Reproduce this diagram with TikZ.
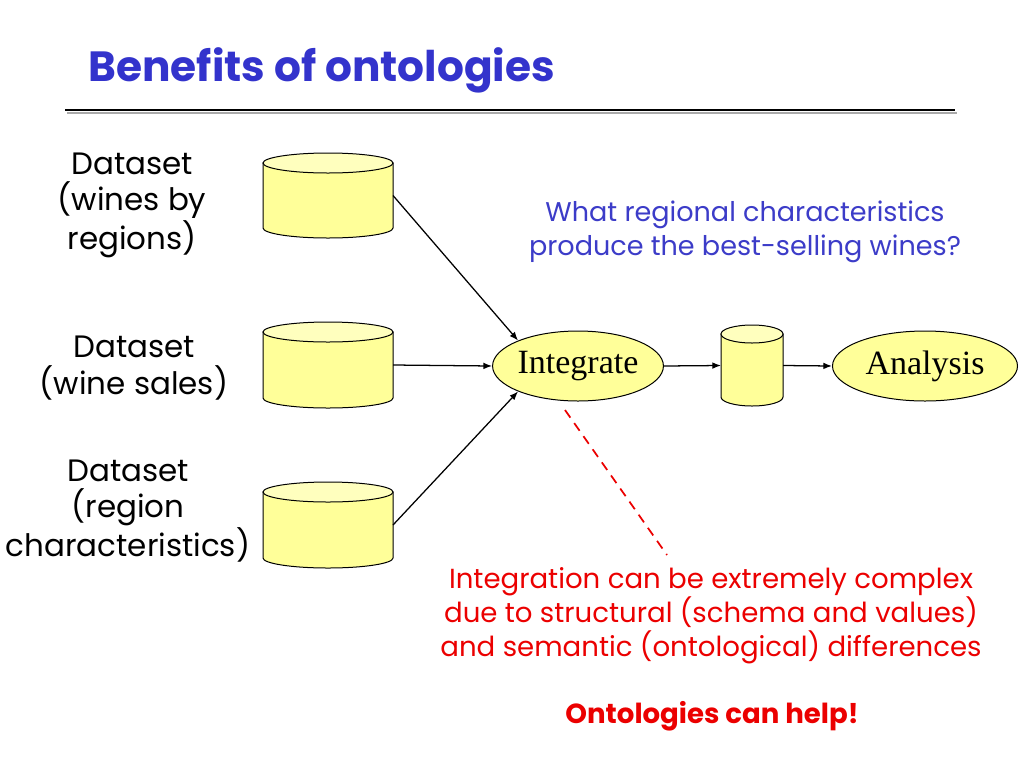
\documentclass[tikz,border=0pt]{standalone}
\usepackage{fontspec}
\setmainfont{Liberation Serif}
\newfontfamily\gothic{Poppins}
\usetikzlibrary{shapes.geometric,arrows.meta}
\definecolor{titleblue}{RGB}{51,51,204}
\definecolor{askblue}{RGB}{60,60,200}
\definecolor{notered}{RGB}{235,0,0}
\definecolor{dbbody}{RGB}{255,255,153}
\definecolor{dbtop}{RGB}{255,255,190}
\tikzset{every picture/.style={line width=0.75pt}}
% drum: name, centre x, centre y, x radius, half body height, end radius
\newcommand{\dbdrum}[6]{%
	\node [dbbox, minimum width={2*#4*0.75pt}, minimum height={2*#5*0.75pt}] (#1) at (#2,#3) {};
	\draw [fill=dbbody] (#2-#4,#3-#5) -- (#2-#4,#3+#5) arc [start angle=180, end angle=0, x radius=#4, y radius=#6] -- (#2+#4,#3-#5) -- cycle;
	\draw [fill=dbtop] (#2,#3-#5) ellipse [x radius=#4, y radius=#6];
}
\begin{document}
\begin{tikzpicture}[x=0.75pt,y=0.75pt,yscale=-1,xscale=1,
	dbbox/.style={inner sep=0pt, outer sep=0pt},
	procnode/.style={ellipse, draw, fill=dbbody, minimum height=52.5pt, inner sep=0pt, font=\fontsize{25.5}{30}\selectfont},
	dslabel/.style={align=center, font=\gothic\fontsize{23.2}{27.5}\selectfont},
	arr/.style={line width=0.95pt, -{Latex[length=6.5pt,width=5pt]}}]
	\useasboundingbox (0,0) rectangle (1024,768);
	% Title
	\node [anchor=base west, inner sep=0pt, text=titleblue, font=\gothic\bfseries\fontsize{31.7}{38}\selectfont] (title) at (88,81) {Benefits of ontologies};
	\draw [color={rgb, 255:red, 170; green, 170; blue, 170 }, line width=2.2pt] (67,113) -- (957,113);
	\draw [line width=1.9pt] (65,110) -- (955,110);
	% Datasets
	\dbdrum{winesdb}{328}{195.5}{65}{32.5}{10}
	\dbdrum{salesdb}{328}{365}{65}{33}{10}
	\dbdrum{regiondb}{328}{525}{65}{33}{10}
	\node [dslabel] (winestxt) at (132,205) {Dataset\\(wines by\\regions)};
	\node [dslabel] (salestxt) at (134,368) {Dataset\\(wine sales)};
	\node [dslabel] (regiontxt) at (128,511) {Dataset\\(region\\characteristics)};
	% Flow
	\node [procnode, minimum width=127.5pt] (integ) at (578,366) {Integrate};
	\dbdrum{mergedb}{752}{365.5}{31}{31.5}{9}
	\node [procnode, minimum width=138.75pt] (analysis) at (925,366) {Analysis};
	\draw [arr] (winesdb.east) -- (integ.157);
	\draw [arr] (salesdb.east) -- (integ.west);
	\draw [arr] (regiondb.east) -- (integ.203);
	\draw [arr] (integ.east) -- (mergedb.west);
	\draw [arr] (mergedb.east) -- (analysis.west);
	% Question
	\node [align=center, text=askblue, font=\gothic\fontsize{20.3}{25}\selectfont] (question) at (745,232) {What regional characteristics\\produce the best-selling wines?};
	% Note
	\coordinate (dashtop) at (565,410);
	\coordinate (dashend) at (667,555);
	\draw [notered, line width=1.3pt, dash pattern=on 7pt off 5pt] (dashtop) -- (dashend);
	\node [align=center, text=notered, font=\gothic\fontsize{20.7}{25.5}\selectfont] (note) at (711,616) {Integration can be extremely complex\\due to structural (schema and values)\\and semantic (ontological) differences};
	\node [text=notered, font=\gothic\bfseries\fontsize{20.7}{24}\selectfont] (helps) at (712,716) {Ontologies can help!};
\end{tikzpicture}
\end{document}
